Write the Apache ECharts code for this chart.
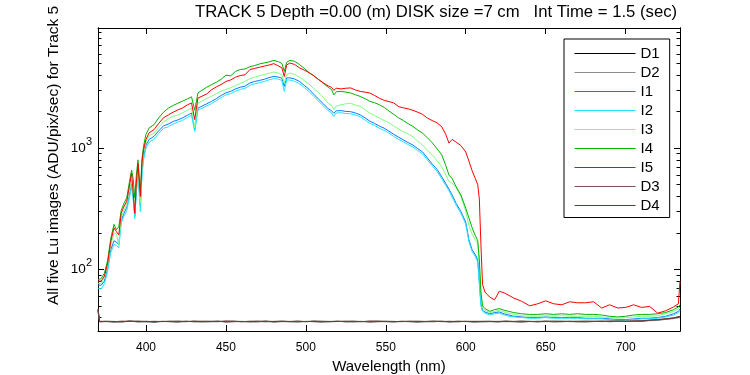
<!DOCTYPE html>
<html>
<head>
<meta charset="utf-8">
<title>TRACK 5 Lu images</title>
<script src="https://cdn.jsdelivr.net/npm/echarts@6/dist/echarts.min.js"></script>
<style>
  html, body { margin: 0; padding: 0; background: #fff; }
  #chart { width: 750px; height: 375px; }
</style>
</head>
<body>
<div id="chart"></div>
<script>
// wavelength grid (nm) shared by the five Lu image curves
const wl = [
  370, 372, 374, 376, 378, 380, 381.5, 383, 384.5, 386,
  388, 390, 391, 392, 393, 394, 395, 396.5, 397.5, 398.5,
  400, 402, 405, 408, 411, 414, 417, 420, 423, 426,
  428.5, 430.5, 432.5, 435, 438, 441, 444, 447, 450, 453,
  456, 459, 462, 465, 468, 471, 474, 477, 480, 483,
  485, 486.5, 488, 490, 493, 496, 499, 502, 505, 508,
  511, 514, 516, 517.5, 519, 522, 525, 528, 531, 534,
  537, 540, 543, 546, 549, 552, 555, 558, 561, 564,
  567, 570, 573, 576, 579, 582, 585, 587.5, 589.5, 591.5,
  594, 597, 600, 602, 604, 606, 607.5, 608.5, 609.5, 610.5,
  612, 615, 618, 621, 624, 627, 630, 635, 640, 645,
  650, 655, 660, 665, 670, 675, 680, 685, 690, 695,
  700, 705, 710, 715, 720, 725, 730, 733, 734
];

const I1 = [
  74, 74, 80, 102, 145, 172, 168, 160, 252, 285,
  325, 440, 510, 400, 275, 450, 640, 335, 640, 850,
  1060, 1180, 1250, 1390, 1530, 1580, 1660, 1710, 1780, 1870,
  1950, 1420, 2140, 2220, 2320, 2430, 2560, 2720, 2860, 2940,
  3080, 3180, 3250, 3450, 3550, 3620, 3700, 3820, 3910, 3850,
  3780, 3236, 3800, 3800, 3720, 3550, 3300, 3060, 2780, 2530,
  2320, 2110, 2040, 1940, 2030, 2040, 2010, 2000, 1950, 1880,
  1780, 1670, 1600, 1520, 1460, 1380, 1300, 1230, 1170, 1110,
  1060, 990, 930, 830, 740, 670, 580, 510, 460, 410,
  350, 300, 245, 175, 145, 132, 120, 80, 52, 46,
  44.5, 43, 44, 44.5, 43, 42, 41, 40.5, 40, 40,
  40.5, 40, 40, 40, 40, 39.5, 39.5, 39.5, 39, 38.5,
  38.5, 39, 39.5, 39.5, 40, 41, 43, 45, 47
];

const I2 = [
  70, 69, 76, 96, 138, 160, 158, 150, 240, 270,
  305, 410, 480, 380, 262, 430, 610, 300, 600, 800,
  1000, 1120, 1190, 1320, 1460, 1500, 1580, 1640, 1700, 1790,
  1870, 1370, 2060, 2130, 2230, 2330, 2460, 2610, 2750, 2820,
  2950, 3050, 3120, 3300, 3400, 3470, 3550, 3660, 3750, 3700,
  3620, 2940, 3650, 3650, 3560, 3400, 3170, 2930, 2670, 2430,
  2230, 2030, 1960, 1820, 1950, 1960, 1930, 1920, 1880, 1810,
  1710, 1600, 1540, 1460, 1400, 1330, 1250, 1180, 1130, 1070,
  1020, 955, 895, 800, 715, 645, 560, 490, 445, 395,
  338, 290, 236, 168, 140, 127, 115, 76, 50, 45,
  43.5, 42, 43, 43.5, 42, 41, 40.5, 40, 39.5, 39.5,
  40, 39.5, 39.5, 39.5, 39.5, 39, 39, 39, 38.5, 38,
  38, 38.5, 39, 39, 39.5, 40.5, 42, 44, 46
];

const I3 = [
  77, 76, 86, 108, 160, 200, 195, 160, 268, 300,
  345, 470, 545, 420, 350, 480, 680, 355, 700, 910,
  1130, 1260, 1330, 1480, 1650, 1750, 1830, 1880, 1960, 2060,
  2140, 1470, 2350, 2450, 2570, 2680, 2820, 2950, 3050, 3150,
  3280, 3420, 3560, 3750, 3850, 3950, 4050, 4150, 4250, 4150,
  4030, 3450, 4050, 4170, 4050, 3870, 3600, 3380, 3100, 2870,
  2620, 2340, 2260, 2080, 2230, 2280, 2320, 2350, 2270, 2210,
  2080, 1950, 1860, 1770, 1690, 1620, 1520, 1440, 1370, 1310,
  1240, 1140, 1060, 960, 880, 790, 700, 600, 530, 515,
  470, 400, 300, 230, 195, 175, 165, 110, 62, 48,
  46, 44, 45, 46, 44.5, 43.5, 42.5, 41.5, 41, 41,
  41.5, 41, 41.5, 41, 41, 41, 41, 40.5, 40, 39.5,
  40, 40.5, 41, 41, 41.5, 43, 45, 47, 49
];

const I4 = [
  82, 84, 93, 118, 180, 235, 212, 225, 305, 345,
  390, 560, 660, 560, 390, 600, 800, 430, 820, 1040,
  1300, 1470, 1560, 1780, 1980, 2140, 2250, 2350, 2450, 2550,
  2650, 2050, 2850, 3000, 3180, 3340, 3500, 3700, 4000, 3950,
  4300, 4450, 4500, 4700, 4800, 4950, 5050, 5150, 5300, 5150,
  5000, 4300, 5100, 5300, 5200, 4900, 4550, 4200, 3950, 3680,
  3420, 3180, 3050, 2750, 2920, 2940, 2900, 2850, 2760, 2670,
  2560, 2430, 2370, 2280, 2170, 2020, 1900, 1780, 1690, 1590,
  1510, 1410, 1330, 1220, 1110, 990, 880, 720, 600, 560,
  480, 410, 320, 265, 220, 190, 172, 120, 65, 50,
  47.5, 45, 46.5, 47.5, 46, 45, 44, 43, 42.5, 42.5,
  43, 42.5, 43, 42.5, 43, 42.5, 42.5, 42, 41, 40.5,
  41, 42, 42.5, 42.5, 43, 44, 46.5, 49, 51
];

const I5 = [
  80, 80, 88, 112, 170, 220, 205, 192, 290, 325,
  365, 520, 620, 430, 290, 520, 750, 400, 760, 970,
  1180, 1340, 1420, 1600, 1780, 1880, 1980, 2070, 2150, 2280,
  2360, 1720, 2590, 2680, 2800, 3030, 3200, 3350, 3550, 3650,
  3850, 3970, 4030, 4450, 4550, 4650, 4750, 4850, 4980, 4750,
  4600, 3900, 4850, 5040, 4900, 4600, 4400, 4200, 3950, 3680,
  3450, 3260, 3180, 3000, 3120, 3080, 3120, 3140, 3020, 2940,
  2900, 2850, 2720, 2580, 2480, 2420, 2360, 2200, 2150, 2110,
  2050, 1980, 1900, 1770, 1690, 1620, 1500, 1300, 1100, 1180,
  1120, 1050, 930, 780, 650, 560, 500, 380, 160, 75,
  65, 59, 56, 66, 64, 61, 58, 54.5, 50, 52,
  55, 52, 51, 54, 53, 53, 54, 48, 51, 48,
  48.5, 51, 48.5, 49.5, 43.5, 45.5, 49, 52, 80
];

// wavelength grid for the dark frames
const wlDark = [
  370, 371, 375, 380, 385, 390, 395, 400, 405, 410,
  415, 420, 425, 430, 435, 440, 445, 450, 455, 460,
  465, 470, 475, 480, 485, 490, 495, 500, 505, 510,
  515, 520, 525, 530, 535, 540, 545, 550, 555, 560,
  565, 570, 575, 580, 585, 590, 595, 600, 605, 610,
  615, 620, 625, 630, 635, 640, 645, 650, 655, 660,
  665, 670, 675, 680, 685, 690, 695, 700, 705, 710,
  715, 720, 725, 730, 734
];

const D1 = [
  46, 37, 37.2, 36.8, 37, 37.4, 36.9, 37.1, 36.7, 37.2,
  37, 36.8, 37.3, 37, 36.9, 37.1, 37.4, 36.8, 37, 37.2,
  36.9, 37, 37.3, 36.8, 37.1, 37, 36.9, 37.2, 37, 36.8,
  37.1, 37.3, 36.9, 37, 37.2, 36.8, 37, 37.1, 36.9, 37.2,
  37, 36.8, 37.1, 37, 37.3, 36.9, 37, 37.2, 36.8, 37,
  37.1, 36.9, 37.2, 37, 36.8, 37.1, 37, 37.3, 36.9, 37,
  37.2, 37, 36.9, 37.1, 37.3, 37, 37.2, 37.1, 37.3, 37.4,
  37.9, 38.2, 38.8, 39.5, 40.5
];

const D2 = [
  45, 36.8, 37, 37.1, 36.9, 37.2, 37, 36.8, 37.1, 37,
  37.2, 36.9, 37, 37.3, 37, 36.8, 37.1, 37, 37.2, 36.9,
  37, 37.1, 36.8, 37.2, 37, 37.1, 36.9, 37, 37.3, 37,
  36.9, 37.1, 37.2, 36.8, 37, 37.1, 37.3, 36.9, 37, 37.1,
  37.2, 37, 36.9, 37.1, 37, 36.8, 37.2, 37, 37.1, 36.9,
  37, 37.2, 36.9, 37.1, 37, 37.3, 36.9, 37, 37.1, 37.2,
  37, 36.9, 37.1, 37.2, 37, 37.3, 37.1, 37.2, 37.3, 37.4,
  37.7, 38, 38.6, 39.2, 40
];

const D3 = [
  47, 37.3, 37.1, 37, 37.4, 37.2, 37.5, 37, 37.3, 37.1,
  37.4, 37.2, 37, 37.5, 37.2, 37.3, 37.1, 37.5, 37.2, 37,
  37.3, 37.5, 37.1, 37.2, 37.4, 37, 37.3, 37.1, 37.5, 37.2,
  37, 37.3, 37.2, 37.4, 37.1, 37.3, 37.5, 37.2, 37, 37.3,
  37.2, 37.4, 37.1, 37.3, 37.2, 37, 37.4, 37.2, 37.3, 37.1,
  37.3, 37.2, 37.4, 37.1, 37.3, 37.2, 37, 37.3, 37.2, 37.4,
  37.1, 37.3, 37.2, 37.4, 37.2, 37.5, 37.4, 37.3, 37.5, 37.6,
  38.1, 38.5, 39.1, 39.8, 41
];

const D4 = [
  46.5, 37.1, 37.3, 37.2, 36.9, 37.4, 37.1, 37.3, 37, 37.2,
  37.1, 37.4, 37.2, 37, 37.3, 37.2, 37, 37.3, 37.4, 37.1,
  37.2, 37, 37.4, 37.1, 37.3, 37.2, 37.4, 37, 37.2, 37.3,
  37.2, 37.1, 37.3, 37.2, 37, 37.4, 37.1, 37.3, 37.2, 37,
  37.3, 37.1, 37.2, 37.4, 37.1, 37.3, 37, 37.2, 37.1, 37.3,
  37.2, 37, 37.3, 37.2, 37.4, 37.1, 37.3, 37.2, 37.4, 37.1,
  37.3, 37.2, 37.4, 37.1, 37.3, 37.2, 37.4, 37.3, 37.4, 37.5,
  38, 38.4, 39, 39.7, 40.8
];

// axis ticks
const xTicks = [400, 450, 500, 550, 600, 650, 700];
const yTicks = [100, 1000];
const yMinorTicks = [40, 50, 60, 70, 80, 90, 200, 300, 400, 500, 600, 700, 800, 900,
  2000, 3000, 4000, 5000, 6000, 7000, 8000, 9000];

const FONT = '"Liberation Sans", Arial, Helvetica, sans-serif';

function pairs(xs, ys) {
  return xs.map(function (x, i) { return [x, ys[i]]; });
}

const seriesDefs = [
  { name: 'D1', x: wlDark, y: D1, color: '#000000' },
  { name: 'D2', x: wlDark, y: D2, color: '#8c8c8c' },
  { name: 'I1', x: wl, y: I1, color: '#0a78ff' },
  { name: 'I2', x: wl, y: I2, color: '#22e4ff' },
  { name: 'I3', x: wl, y: I3, color: '#80ff80' },
  { name: 'I4', x: wl, y: I4, color: '#00b400' },
  { name: 'I5', x: wl, y: I5, color: '#ff0000' },
  { name: 'D3', x: wlDark, y: D3, color: '#7d5252' },
  { name: 'D4', x: wlDark, y: D4, color: '#6a3a3a' }
];

const chart = echarts.init(document.getElementById('chart'), null, { renderer: 'canvas' });

// y axes: left/right, major and minor ticks on separate overlapping axes
function yAxis(pos, ticks, len, labels) {
  return {
    type: 'log',
    position: pos,
    min: 31,
    max: 9800,
    axisLine: { show: true, lineStyle: { color: '#000', width: 1 } },
    axisTick: { show: true, inside: true, length: len, customValues: ticks, lineStyle: { color: '#000' } },
    axisLabel: {
      show: labels,
      customValues: yTicks,
      margin: 6,
      formatter: function (v) { return '{b|10}{e|' + Math.round(Math.log10(v)) + '}'; },
      rich: {
        b: { fontSize: 13.5, fontFamily: FONT, color: '#000' },
        e: { fontSize: 11, fontFamily: FONT, color: '#000', padding: [0, 0, 13, 0] }
      }
    },
    splitLine: { show: false },
    minorTick: { show: false }
  };
}

function xAxis(pos, labels) {
  return {
    type: 'value',
    position: pos,
    min: 370,
    max: 734,
    name: labels ? 'Wavelength (nm)' : '',
    nameLocation: 'middle',
    nameGap: 26,
    nameTextStyle: { fontSize: 15, fontFamily: FONT, color: '#000' },
    axisLine: { show: true, onZero: false, lineStyle: { color: '#000', width: 1 } },
    axisTick: { show: true, inside: true, length: 6, customValues: xTicks, lineStyle: { color: '#000' } },
    axisLabel: { show: labels, customValues: xTicks, margin: 11, fontSize: 12, fontFamily: FONT, color: '#000' },
    splitLine: { show: false }
  };
}

const option = {
  animation: false,
  backgroundColor: '#fff',
  title: {
    text: 'TRACK 5 Depth =0.00 (m) DISK size =7 cm   Int Time = 1.5 (sec)',
    left: 195,
    top: 4,
    padding: 0,
    textStyle: { fontSize: 16.7, fontWeight: 'normal', color: '#000', fontFamily: FONT }
  },
  grid: { left: 98, right: 70, top: 28, bottom: 44, containLabel: false, outerBoundsMode: 'none' },
  legend: {
    orient: 'vertical',
    left: 564,
    top: 39,
    // thin filled bar as the line sample
    icon: 'rect',
    itemWidth: 61,
    itemHeight: 1,
    itemGap: 4,
    padding: [7, 10, 4.5, 10.5],
    backgroundColor: '#fff',
    borderColor: '#000',
    borderWidth: 1,
    borderRadius: 0,
    textStyle: { fontSize: 15, color: '#000', fontFamily: FONT },
    data: seriesDefs.map(function (s) {
      return { name: s.name, itemStyle: { color: s.color, borderWidth: 0 } };
    })
  },
  xAxis: [xAxis('bottom', true), xAxis('top', false)],
  yAxis: [
    yAxis('left', yTicks, 6, true),
    yAxis('left', yMinorTicks, 3.5, false),
    yAxis('right', yTicks, 6, false),
    yAxis('right', yMinorTicks, 3.5, false)
  ],
  graphic: [{
    type: 'text',
    x: 54,
    y: 305,
    rotation: Math.PI / 2,
    style: {
      text: 'All five Lu images (ADU/pix/sec) for Track 5',
      fontSize: 15.5,
      fontFamily: FONT,
      fill: '#000',
      align: 'left',
      verticalAlign: 'middle'
    }
  }],
  series: seriesDefs.map(function (s) {
    return {
      name: s.name,
      type: 'line',
      xAxisIndex: 0,
      yAxisIndex: 0,
      data: pairs(s.x, s.y),
      symbol: 'none',
      showSymbol: false,
      clip: true,
      lineStyle: { width: 1, color: s.color },
      itemStyle: { color: s.color },
      emphasis: { disabled: true }
    };
  })
};

chart.setOption(option);
</script>
</body>
</html>
